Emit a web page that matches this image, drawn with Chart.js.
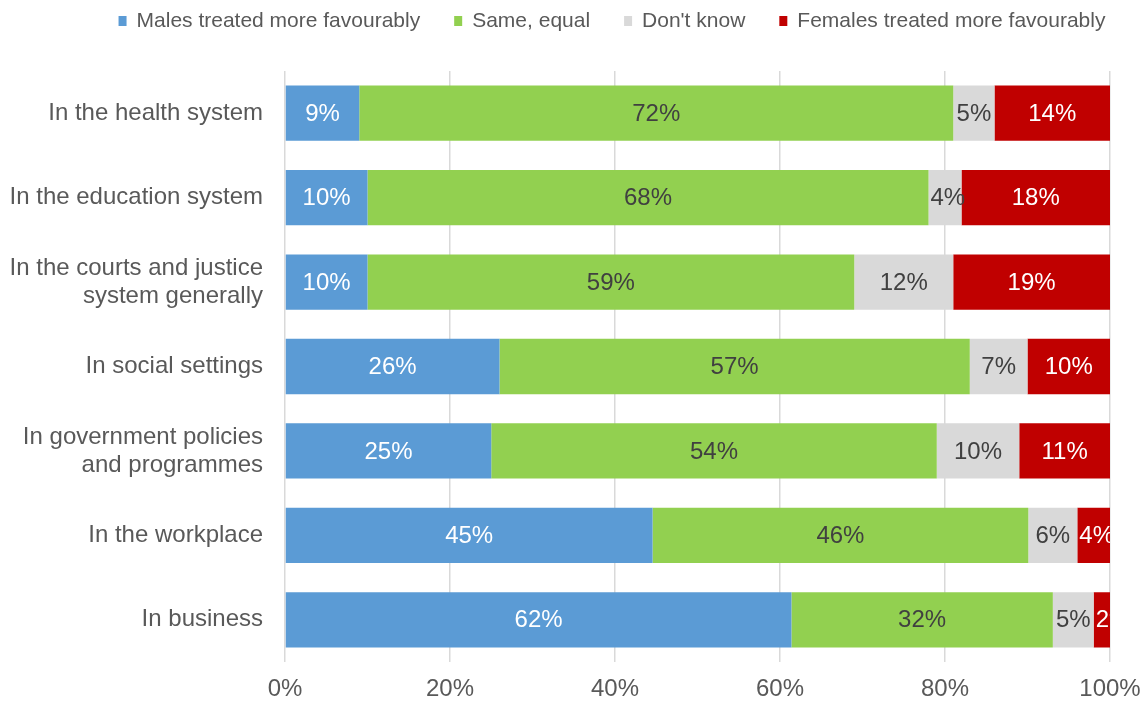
<!DOCTYPE html>
<html>
<head>
<meta charset="utf-8">
<script src="https://cdn.jsdelivr.net/npm/chart.js@4"></script>
<style>
  html, body { margin: 0; padding: 0; background: #fff; }
  #wrap { width: 1142px; height: 701px; position: relative; }
</style>
</head>
<body>
<div id="wrap"><canvas id="chart"></canvas></div>
<script>
const categories = [
    'In the health system',
    'In the education system',
    ['In the courts and justice', 'system generally'],
    'In social settings',
    ['In government policies', 'and programmes'],
    'In the workplace',
    'In business'
];
const males = [9, 10, 10, 26, 25, 45, 62];
const same = [72, 68, 59, 57, 54, 46, 32];
const dontKnow = [5, 4, 12, 7, 10, 6, 5];
const females = [14, 18, 19, 10, 11, 4, 2];
const xTicks = [0, 20, 40, 60, 80, 100];

const FONT = "'Liberation Sans', Arial, sans-serif";
const GREY_TEXT = '#595959';

// rows don't always add to exactly 100 (rounding), so scale each row to 100%
const rowTotals = males.map((v, i) => v + same[i] + dontKnow[i] + females[i]);
function toShare(values) {
    return values.map((v, i) => v / rowTotals[i] * 100);
}

function makeSeries(label, values, colour, labelColour) {
    return {
        label: label,
        data: toShare(values),
        raw: values,
        backgroundColor: colour,
        labelColour: labelColour,
        borderWidth: 0,
        categoryPercentage: 1,
        barPercentage: 0.655
    };
}

// single-row legend across the top, small square swatches
const legendRow = {
    id: 'legendRow',
    afterDraw(chart) {
        const ctx = chart.ctx;
        const box = 8, gap = 10, spacing = 34;
        const centre = 612, y = 21;
        ctx.save();
        ctx.font = '21px ' + FONT;
        ctx.textBaseline = 'middle';
        ctx.textAlign = 'left';
        const items = chart.data.datasets.map(ds => ({
            text: ds.label,
            colour: ds.backgroundColor,
            width: ctx.measureText(ds.label).width
        }));
        const total = items.reduce((sum, it) => sum + box + gap + it.width, 0) +
            spacing * (items.length - 1);
        let x = centre - total / 2;
        items.forEach(it => {
            ctx.fillStyle = it.colour;
            ctx.fillRect(x, y - 5, box, 10);
            x += box + gap;
            ctx.fillStyle = GREY_TEXT;
            ctx.fillText(it.text, x, y);
            x += it.width + spacing;
        });
        ctx.restore();
    }
};

// percentage text inside each segment
const segmentLabels = {
    id: 'segmentLabels',
    afterDatasetsDraw(chart) {
        const ctx = chart.ctx;
        const area = chart.chartArea;
        ctx.save();
        ctx.beginPath();
        ctx.rect(area.left, area.top, area.right - area.left, area.bottom - area.top);
        ctx.clip();
        ctx.font = '24px ' + FONT;
        ctx.textBaseline = 'middle';
        ctx.textAlign = 'left';
        chart.data.datasets.forEach((ds, di) => {
            const meta = chart.getDatasetMeta(di);
            meta.data.forEach((bar, i) => {
                const text = ds.raw[i] + '%';
                const w = ctx.measureText(text).width;
                const start = Math.min(bar.base, bar.x);
                const end = Math.max(bar.base, bar.x);
                let x = (start + end) / 2 - w / 2;
                if (x < start) x = Math.max(x, start + 2);
                ctx.fillStyle = ds.labelColour;
                ctx.fillText(text, x, bar.y + 1);
            });
        });
        ctx.restore();
    }
};

const data = {
    labels: categories,
    datasets: [
        makeSeries('Males treated more favourably', males, '#5B9BD5', '#ffffff'),
        makeSeries('Same, equal', same, '#92D050', '#404040'),
        makeSeries("Don't know", dontKnow, '#D9D9D9', '#404040'),
        makeSeries('Females treated more favourably', females, '#C00000', '#ffffff')
    ]
};

const config = {
    type: 'bar',
    data: data,
    plugins: [legendRow, segmentLabels],
    options: {
        indexAxis: 'y',
        responsive: true,
        maintainAspectRatio: false,
        animation: false,
        layout: {
            padding: { top: 71, left: 0, right: 32, bottom: 0 }
        },
        scales: {
            x: {
                stacked: true,
                min: 0,
                max: 100,
                afterBuildTicks: (scale) => {
                    scale.ticks = xTicks.map(v => ({ value: v }));
                },
                afterFit: (scale) => {
                    scale.height = 39;
                    scale.paddingLeft = 0;
                    scale.paddingRight = 0;
                },
                grid: {
                    color: '#D9D9D9',
                    lineWidth: 1.5,
                    drawTicks: false
                },
                border: { display: false },
                ticks: {
                    padding: 13,
                    color: GREY_TEXT,
                    font: { size: 24, family: FONT },
                    callback: (v) => v + '%'
                }
            },
            y: {
                stacked: true,
                afterFit: (scale) => {
                    scale.width = 285;
                },
                grid: { display: false, drawTicks: false },
                border: { display: false },
                ticks: {
                    padding: 22,
                    color: GREY_TEXT,
                    font: { size: 24, family: FONT, lineHeight: 1.17 }
                }
            }
        },
        plugins: {
            legend: { display: false },
            tooltip: { enabled: false }
        }
    }
};

window.chart = new Chart(document.getElementById('chart').getContext('2d'), config);
</script>
</body>
</html>
